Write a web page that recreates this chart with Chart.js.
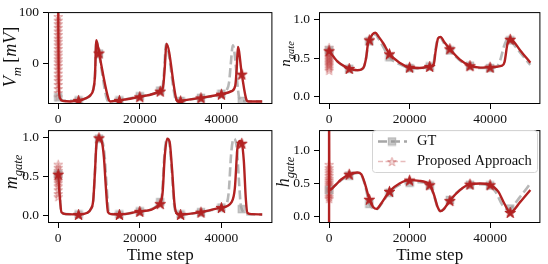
<!DOCTYPE html>
<html>
<head>
<meta charset="utf-8">
<script src="https://cdn.jsdelivr.net/npm/chart.js@4.4.1/dist/chart.umd.min.js"></script>
<style>
html, body { margin: 0; padding: 0; background: #fff; }
#wrap { position: relative; width: 548px; height: 264px; overflow: hidden; }
canvas { position: absolute; }
</style>
</head>
<body>
<div id="wrap">
  <canvas id="cV"></canvas>
  <canvas id="cN"></canvas>
  <canvas id="cM"></canvas>
  <canvas id="cH"></canvas>
</div>
<script>
// ---- data (time step, value) ----
const xTicks = [0, 20000, 40000];
const gateTicks = [0, 0.5, 1.0];
const vTicks = [0, 100];

// membrane potential V_m
const vPredT = [0, 120, 400, 1200, 3000, 5000, 7000, 8000, 8600, 9000, 9350, 10000, 12400, 12800, 15000, 20000, 25000, 25700, 26100, 26520, 29000, 29400, 30000, 35000, 40000, 42500, 43400, 43750, 44040, 45000, 46200, 46600, 50000];
const vPredY = [130, -35, -66, -72, -73, -71, -66, -60, -50, -25, 46, 21, -70, -73, -71, -64, -53, -45, -10, 39, -70, -73, -72, -66, -59, -53, -42, -10, 33, -20, -71, -73, -73];
const vGtT = [0, 1200, 5000, 7000, 8000, 8600, 9000, 9350, 10000, 12000, 12400, 15000, 20000, 25000, 25600, 26000, 26400, 28800, 29200, 30000, 35000, 40000, 41300, 41900, 42300, 42800, 44500, 45000, 50000];
const vGtY = [-65, -72, -71, -66, -60, -50, -25, 45, 20, -70, -73, -71, -63, -52, -44, -10, 38, -70, -73, -72, -66, -58, -51, -35, 0, 36, -70, -72, -73];
const vInit = [92, 85, 78, 71, 64, 57, 50, 44, 37, 30, 23, 17, 10, 4, -3, -10, -18, -25, -32, -40, -48, -56, -64];

// gating variable n
const nPredT = [0, 2000, 5000, 7000, 8500, 9200, 9700, 10000, 10800, 11500, 12300, 13500, 15000, 17500, 20000, 22500, 25000, 26000, 26500, 27100, 27700, 28600, 30000, 32500, 35000, 37500, 40000, 43000, 43600, 44300, 45000, 45400, 47500, 50000];
const nPredY = [0.595, 0.46, 0.364, 0.34, 0.37, 0.5, 0.7, 0.737, 0.81, 0.83, 0.78, 0.69, 0.555, 0.44, 0.38, 0.37, 0.39, 0.42, 0.6, 0.76, 0.777, 0.71, 0.62, 0.48, 0.40, 0.375, 0.38, 0.40, 0.45, 0.68, 0.745, 0.74, 0.6, 0.44];
const nGtT = [0, 2000, 5000, 7000, 8500, 9200, 9700, 10000, 10800, 11400, 12300, 13500, 15000, 17500, 20000, 22500, 25000, 25900, 26400, 27000, 27600, 28600, 30000, 32500, 35000, 37500, 40000, 41700, 42500, 43500, 44400, 45000, 47500, 50000];
const nGtY = [0.6, 0.46, 0.36, 0.34, 0.37, 0.5, 0.68, 0.72, 0.79, 0.81, 0.75, 0.64, 0.51, 0.42, 0.37, 0.365, 0.39, 0.42, 0.6, 0.75, 0.77, 0.69, 0.60, 0.47, 0.40, 0.37, 0.37, 0.39, 0.47, 0.66, 0.75, 0.73, 0.57, 0.41];
const nInit = [0.64, 0.61, 0.58, 0.56, 0.54, 0.52, 0.5, 0.48, 0.46, 0.44, 0.42, 0.40, 0.37, 0.34];

// gating variable m
const mPredT = [0, 300, 800, 2000, 5000, 7000, 8000, 8600, 9000, 9400, 10000, 10700, 11200, 11700, 12200, 13000, 15000, 20000, 25000, 25600, 26100, 26700, 27300, 27900, 28500, 29000, 30000, 35000, 40000, 42500, 43300, 43900, 44500, 45000, 45500, 46000, 46400, 47500, 50000];
const mPredY = [0.53, 0.3, 0.04, 0.015, 0.01, 0.03, 0.08, 0.2, 0.55, 0.93, 1.0, 0.95, 0.75, 0.35, 0.04, 0.015, 0.01, 0.05, 0.15, 0.3, 0.75, 0.99, 0.95, 0.6, 0.15, 0.03, 0.01, 0.04, 0.1, 0.17, 0.35, 0.85, 0.96, 0.93, 0.7, 0.2, 0.03, 0.015, 0.01];
const mGtT = [0, 300, 800, 2000, 5000, 7000, 8000, 8600, 9000, 9400, 10000, 10800, 11400, 11900, 12400, 13200, 15000, 20000, 25000, 25500, 26000, 26600, 27200, 27800, 28400, 28900, 30000, 35000, 40000, 41300, 41800, 42400, 43000, 43700, 44300, 44700, 45000, 46000, 50000];
const mGtY = [0.53, 0.3, 0.04, 0.015, 0.01, 0.03, 0.08, 0.2, 0.55, 0.93, 0.99, 0.96, 0.75, 0.35, 0.04, 0.015, 0.01, 0.05, 0.17, 0.3, 0.75, 0.99, 0.95, 0.6, 0.15, 0.03, 0.01, 0.04, 0.1, 0.15, 0.3, 0.8, 0.99, 0.9, 0.45, 0.15, 0.08, 0.015, 0.01];
const mInit = [0.66, 0.62, 0.58, 0.55, 0.53, 0.5, 0.48, 0.45, 0.42, 0.38, 0.33, 0.28, 0.24];

// gating variable h
const hPredT = [0, 1, 80, 1500, 3000, 5000, 7000, 8000, 9000, 10000, 11000, 11800, 13000, 15000, 17500, 20000, 22500, 24000, 25000, 26000, 27000, 27700, 28500, 30000, 32500, 35000, 37500, 40000, 42000, 43500, 45000, 47500, 50000];
const hPredY = [-0.6, 1.6, 0.40, 0.47, 0.56, 0.64, 0.667, 0.64, 0.48, 0.26, 0.14, 0.115, 0.20, 0.38, 0.50, 0.55, 0.54, 0.52, 0.48, 0.34, 0.14, 0.08, 0.11, 0.24, 0.40, 0.49, 0.50, 0.48, 0.38, 0.20, 0.06, 0.22, 0.40];
const hGtT = [0, 1500, 3000, 5000, 7000, 8000, 9000, 10000, 11000, 11800, 13000, 15000, 17500, 20000, 22500, 24000, 25000, 26000, 27000, 27700, 28500, 30000, 32500, 35000, 37500, 40000, 41500, 43000, 44300, 45000, 47500, 50000];
const hGtY = [0.40, 0.47, 0.55, 0.62, 0.66, 0.63, 0.46, 0.19, 0.12, 0.11, 0.19, 0.36, 0.48, 0.51, 0.52, 0.51, 0.47, 0.33, 0.13, 0.08, 0.11, 0.25, 0.40, 0.48, 0.49, 0.47, 0.36, 0.18, 0.11, 0.12, 0.30, 0.50];
const hInit = [0.79, 0.74, 0.70, 0.66, 0.62, 0.58, 0.55, 0.52, 0.49, 0.46, 0.43, 0.40, 0.37, 0.34, 0.30, 0.27];

const legendLabels = ['GT', 'Proposed Approach'];

// ---- styles ----
const SERIF = "'Liberation Serif', 'DejaVu Serif', serif";
const RED = '#b22222';
const TXT = '#111';

function starImage(size, fill, stroke) {
    const c = document.createElement('canvas');
    c.width = c.height = size;
    const g = c.getContext('2d');
    const R = size / 2 - 0.8, r = R * 0.382, cx = size / 2, cy = size / 2 + 0.6;
    g.beginPath();
    for (let i = 0; i < 10; i++) {
        const a = -Math.PI / 2 + i * Math.PI / 5;
        const rr = i % 2 ? r : R;
        g.lineTo(cx + rr * Math.cos(a), cy + rr * Math.sin(a));
    }
    g.closePath();
    g.fillStyle = fill;
    g.fill();
    g.strokeStyle = stroke;
    g.lineWidth = 1;
    g.stroke();
    return c;
}

function squareImage(size, fill, stroke) {
    const c = document.createElement('canvas');
    c.width = c.height = size;
    const g = c.getContext('2d');
    g.fillStyle = fill;
    g.fillRect(1, 1, size - 2, size - 2);
    g.strokeStyle = stroke;
    g.lineWidth = 1.5;
    g.strokeRect(1.5, 1.5, size - 3, size - 3);
    return c;
}

const redStar = starImage(13, RED, RED);
const paleStar = starImage(11, 'rgba(178,34,34,0.16)', 'rgba(178,34,34,0.33)');
const graySquare = squareImage(10, 'rgba(150,150,150,0.5)', 'rgba(180,180,180,0.7)');

function pts(t, y) {
    return t.map((v, i) => ({ x: v, y: y[i] }));
}

function isMark(c) {
    return c.raw && c.raw.x % 5000 === 0 && c.raw.x <= 45000;
}

function panelDatasets(predT, predY, gtT, gtY, init) {
    return [
        {
            data: pts(predT, predY),
            borderColor: RED,
            borderWidth: 2.4,
            pointStyle: redStar,
            pointRadius: c => isMark(c) ? 5 : 0,
            cubicInterpolationMode: 'monotone'
        },
        {
            data: pts(gtT, gtY),
            borderColor: 'rgba(170,170,170,0.85)',
            borderWidth: 2.6,
            borderDash: [9, 4],
            pointStyle: graySquare,
            pointRadius: c => isMark(c) ? 5 : 0,
            cubicInterpolationMode: 'monotone'
        },
        {
            data: init.map(v => ({ x: 0, y: v })),
            showLine: false,
            pointStyle: paleStar,
            pointRadius: 5
        }
    ];
}

// draw the full axes frame like matplotlib spines
const framePlugin = {
    id: 'frame',
    afterDraw(chart) {
        const a = chart.chartArea, g = chart.ctx;
        g.save();
        g.strokeStyle = '#000';
        g.lineWidth = 1;
        g.strokeRect(a.left + 0.5, a.top + 0.5, a.right - a.left - 1, a.bottom - a.top - 1);
        g.restore();
    }
};

// rotated y label with a subscript
const yLabelPlugin = {
    id: 'yLabel',
    afterDraw(chart, args, o) {
        if (!o.parts) return;
        const g = chart.ctx;
        const fonts = o.parts.map(p => (p.i ? 'italic ' : '') + (p.sub ? o.size * 0.7 : o.size) + 'px ' + SERIF);
        let total = 0;
        o.parts.forEach((p, k) => { g.font = fonts[k]; total += g.measureText(p.t).width; });
        g.save();
        g.translate(o.x, o.y);
        g.rotate(-Math.PI / 2);
        g.fillStyle = TXT;
        g.textBaseline = 'alphabetic';
        let cx = -total / 2;
        o.parts.forEach((p, k) => {
            g.font = fonts[k];
            g.fillText(p.t, cx, p.sub ? o.size * 0.25 : 0);
            cx += g.measureText(p.t).width;
        });
        g.restore();
    }
};

// legend box inside the h panel
const legendPlugin = {
    id: 'boxLegend',
    afterDraw(chart, args, o) {
        if (!o.show) return;
        const g = chart.ctx;
        g.save();
        const bx = 97.5, by = 12.5, bw = 165, bh = 42, r = 3;
        g.beginPath();
        g.roundRect(bx, by, bw, bh, r);
        g.fillStyle = 'rgba(255,255,255,0.8)';
        g.fill();
        g.strokeStyle = '#d4d4d4';
        g.lineWidth = 1;
        g.stroke();
        // GT entry
        let y = 23.5;
        g.setLineDash([9, 4]);
        g.strokeStyle = 'rgba(150,150,150,0.85)';
        g.lineWidth = 2.6;
        g.beginPath(); g.moveTo(103, y); g.lineTo(132, y); g.stroke();
        g.drawImage(graySquare, 117 - 5, y - 5);
        // Proposed Approach entry
        y = 43.5;
        g.setLineDash([5, 2.5]);
        g.strokeStyle = 'rgba(178,34,34,0.3)';
        g.lineWidth = 1.3;
        g.beginPath(); g.moveTo(103, y); g.lineTo(132, y); g.stroke();
        g.setLineDash([]);
        g.drawImage(paleStar, 117 - 5.5, y - 5.5);
        g.fillStyle = TXT;
        g.font = '14.5px ' + SERIF;
        g.textBaseline = 'middle';
        g.fillText(legendLabels[0], 142, 23.5);
        g.fillText(legendLabels[1], 142, 43.5);
        g.restore();
    }
};

// build one subplot; geo = canvas box, area = wanted chart area (page coords)
function buildPanel(id, geo, area, datasets, yMin, yMax, yTicks, yLabel, xTitle, legend) {
    const cv = document.getElementById(id);
    cv.width = geo.w; cv.height = geo.h;
    cv.style.left = geo.x + 'px'; cv.style.top = geo.y + 'px';
    cv.style.width = geo.w + 'px'; cv.style.height = geo.h + 'px';
    const yW = area.left - geo.x;
    const xH = geo.y + geo.h - area.bottom;
    return new Chart(cv.getContext('2d'), {
        type: 'line',
        data: { datasets: datasets },
        options: {
            responsive: false,
            animation: false,
            events: [],
            clip: 0,
            layout: { padding: { left: 0, top: area.top - geo.y, right: geo.x + geo.w - area.right, bottom: 0 } },
            plugins: {
                legend: { display: false },
                tooltip: { enabled: false },
                yLabel: yLabel,
                boxLegend: { show: legend }
            },
            scales: {
                x: {
                    type: 'linear',
                    min: -2500, max: 52500,
                    afterBuildTicks: s => { s.ticks = xTicks.map(v => ({ value: v })); },
                    afterFit: s => { s.height = xH; },
                    border: { display: false },
                    grid: { drawOnChartArea: false, drawTicks: true, tickLength: 5, color: '#000' },
                    ticks: { color: TXT, font: { family: SERIF, size: 13.5 }, padding: 2, maxRotation: 0, callback: v => String(v) },
                    title: { display: xTitle, text: 'Time step', color: TXT, font: { family: SERIF, size: 17, lineHeight: 1 }, padding: { top: 0, bottom: 0 } }
                },
                y: {
                    min: yMin, max: yMax,
                    afterBuildTicks: s => { s.ticks = yTicks.map(v => ({ value: v })); },
                    afterFit: s => { s.width = yW; },
                    border: { display: false },
                    grid: { drawOnChartArea: false, drawTicks: true, tickLength: 5, color: '#000' },
                    ticks: { color: TXT, font: { family: SERIF, size: 13.5 }, padding: 4,
                             callback: v => (yTicks === vTicks ? String(v) : v.toFixed(1)) }
                }
            }
        },
        plugins: [framePlugin, yLabelPlugin, legendPlugin]
    });
}

buildPanel('cV', { x: 0, y: 0, w: 280, h: 124 }, { left: 48, right: 275, top: 4, bottom: 104 },
    panelDatasets(vPredT, vPredY, vGtT, vGtY, vInit), -78, 100.5, vTicks,
    { parts: [{ t: 'V', i: 1 }, { t: 'm', i: 1, sub: 1 }, { t: ' [', i: 0 }, { t: 'mV', i: 1 }, { t: ']', i: 0 }], size: 18, x: 16, y: 57 },
    false, false);

buildPanel('cN', { x: 275, y: 0, w: 273, h: 124 }, { left: 319, right: 546, top: 4, bottom: 104 },
    panelDatasets(nPredT, nPredY, nGtT, nGtY, nInit), -0.1, 1.1, gateTicks,
    { parts: [{ t: 'n', i: 1 }, { t: 'gate', i: 1, sub: 1 }], size: 15, x: 15, y: 54 },
    false, false);

buildPanel('cM', { x: 0, y: 118, w: 280, h: 146 }, { left: 48, right: 275, top: 123, bottom: 223 },
    panelDatasets(mPredT, mPredY, mGtT, mGtY, mInit), -0.1, 1.1, gateTicks,
    { parts: [{ t: 'm', i: 1 }, { t: 'gate', i: 1, sub: 1 }], size: 18, x: 17, y: 54 },
    true, false);

buildPanel('cH', { x: 275, y: 118, w: 273, h: 146 }, { left: 319, right: 546, top: 123, bottom: 223 },
    panelDatasets(hPredT, hPredY, hGtT, hGtY, hInit), -0.1, 1.31, gateTicks,
    { parts: [{ t: 'h', i: 1 }, { t: 'gate', i: 1, sub: 1 }], size: 18, x: 14, y: 54 },
    true, true);
</script>
</body>
</html>
